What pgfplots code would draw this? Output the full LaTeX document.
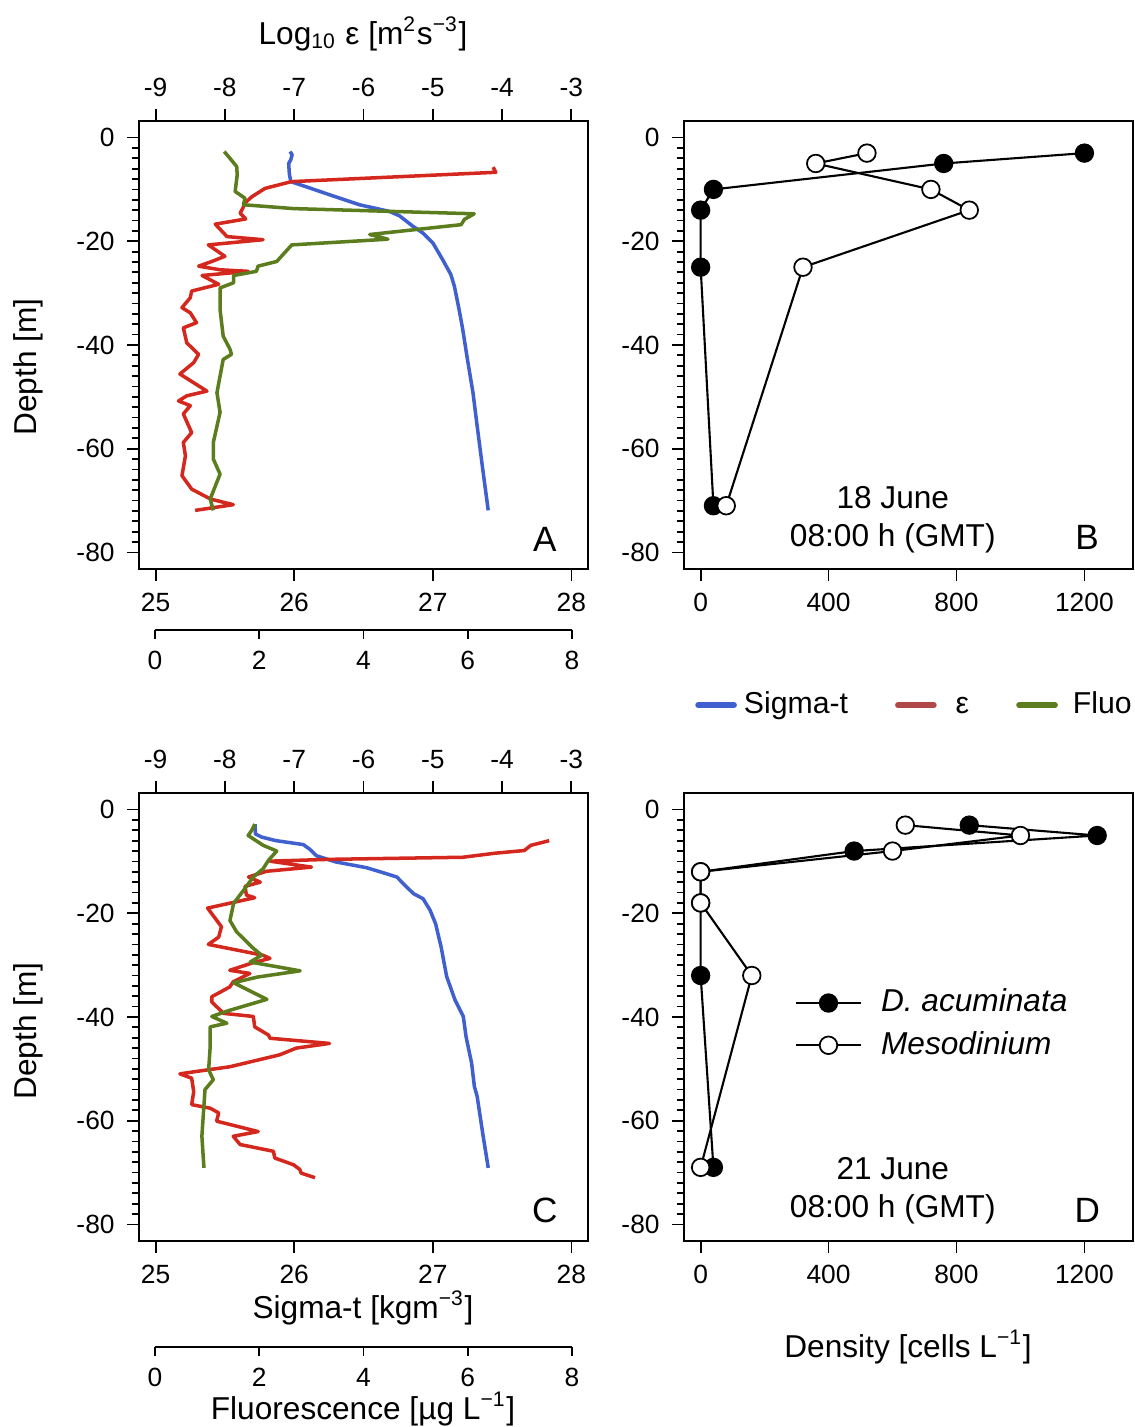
\documentclass[border=0pt]{standalone}
\usepackage{fontspec}
\setmainfont{Liberation Sans}
\usepackage{pgfplots}
\pgfplotsset{compat=1.18}

\definecolor{sigblue}{RGB}{64,96,208}
\definecolor{epsred}{RGB}{212,40,30}
\definecolor{fluogreen}{RGB}{92,125,30}
\definecolor{legred}{RGB}{176,72,72}

\newcommand{\lab}{\fontsize{9}{10.8}\selectfont}

\pgfplotsset{
  base/.style={scale only axis, width=4.49cm, height=4.48cm,
    anchor=south west, tick align=outside,
    /pgf/number format/assume math mode=true,
    /pgf/number format/1000 sep={},
    tick label style={font=\fontsize{7.5}{9}\selectfont},
    major tick length=0.12cm, minor tick length=0.075cm,
    every tick/.style={black, line width=0.5pt},
    axis line style={line width=0.6pt}},
  depth/.style={ymin=-83.2, ymax=3.2, ytick={0,-20,-40,-60,-80},
    minor ytick={-78,-76,...,-2}},
  prof/.style={line width=1pt, line join=round},
  fluoline/.style={scale only axis, width=4.17cm, height=0.2cm,
    anchor=south west, xmin=0, xmax=8, ymin=0, ymax=1,
    axis x line*=bottom, axis y line=none, xtick={0,2,4,6,8},
    tick align=outside, major tick length=0.09cm,
    /pgf/number format/assume math mode=true,
    tick label style={font=\fontsize{7.5}{9}\selectfont},
    every tick/.style={black, line width=0.5pt},
    axis line style={line width=0.6pt}},
  dino/.style={black, line width=0.6pt, mark=*, mark size=2.5pt,
    mark options={fill=black, line width=0.5pt}},
  meso/.style={black, line width=0.6pt, mark=*, mark size=2.5pt,
    mark options={fill=white, line width=0.5pt}},
}

\begin{document}
\begin{tikzpicture}
\path[use as bounding box] (0,0) rectangle (11.34,14.27);

% ---------- panel A ----------
\begin{axis}[base, depth, at={(1.39cm,8.58cm)}, tick pos=left,
  xmin=24.88, xmax=28.12, xtick={25,26,27,28}]
\addplot[prof, sigblue] coordinates {
(25.97,-2.7) (25.985,-3.3) (25.975,-4.3) (25.96,-5.0) (25.965,-7.0)
(25.975,-8.5) (26.065,-9.3) (26.257,-11.05) (26.472,-12.97) (26.688,-14.25)
(26.76,-15.1) (26.856,-17.1) (26.928,-18.4) (27.0,-20.3) (27.07,-23.5)
(27.13,-26.4) (27.156,-28.7) (27.19,-33.2) (27.216,-37) (27.25,-42.8)
(27.29,-49.2) (27.32,-55.6) (27.36,-63.9) (27.40,-71.9)};
\node[font=\fontsize{10}{12}\selectfont] at (rel axis cs:0.904,0.065) {A};
\end{axis}
\begin{axis}[base, depth, at={(1.39cm,8.58cm)},
  xmin=-9.24, xmax=-2.76, axis x line*=top, axis y line=none,
  xtick={-9,-8,-7,-6,-5,-4,-3}]
\addplot[prof, epsred] coordinates {
(-4.13,-5.7) (-4.09,-6.7) (-7.04,-8.5) (-7.42,-9.8) (-7.61,-11.4)
(-7.71,-12.6) (-7.73,-13.3) (-7.78,-14.6) (-7.70,-15.7) (-8.14,-16.7)
(-7.97,-19.1) (-7.45,-19.7) (-8.24,-20.7) (-8.0,-22.9) (-8.19,-23.9)
(-8.38,-24.8) (-8.07,-25.5) (-7.66,-25.8) (-8.33,-26.6) (-8.09,-28.3)
(-8.48,-29.6) (-8.50,-30.9) (-8.62,-32.8) (-8.50,-33.8) (-8.41,-35.7)
(-8.60,-36.7) (-8.55,-39.6) (-8.38,-41.8) (-8.45,-43.4) (-8.65,-45.6)
(-8.26,-48.9) (-8.55,-49.8) (-8.67,-50.8) (-8.50,-51.7) (-8.60,-53.3)
(-8.48,-56.9) (-8.60,-58.8) (-8.57,-61.4) (-8.62,-65.2) (-8.48,-67.8)
(-8.21,-69.7) (-7.88,-70.8) (-8.43,-71.9)};
\end{axis}
\begin{axis}[base, depth, at={(1.39cm,8.58cm)}, hide axis,
  xmin=-0.32, xmax=8.32]
\addplot[prof, fluogreen] coordinates {
(1.32,-2.7) (1.43,-4.0) (1.56,-5.6) (1.57,-7.2) (1.53,-10.4) (1.72,-11.7)
(1.69,-12.96) (2.65,-13.7) (6.13,-14.7) (5.94,-15.8) (5.88,-16.8)
(4.12,-18.7) (4.47,-19.6) (2.62,-20.7) (2.33,-23.9) (1.97,-24.8)
(1.94,-25.8) (1.50,-26.6) (1.50,-28.0) (1.24,-29.0) (1.24,-33.2)
(1.30,-38.3) (1.43,-40.8) (1.46,-41.8) (1.30,-42.8) (1.24,-46.0)
(1.18,-49.2) (1.24,-53.0) (1.11,-58.8) (1.11,-62.0) (1.24,-64.9)
(1.05,-69.7) (1.11,-71.9)};
\end{axis}
\begin{axis}[fluoline, at={(1.55cm,7.97cm)}]
\end{axis}

% ---------- panel B ----------
\begin{axis}[base, depth, at={(6.84cm,8.58cm)}, tick pos=left,
  xmin=-52, xmax=1352, xtick={0,400,800,1200},
  legend image code/.code={\draw[#1, line width=1.6pt, line cap=round]
    (0cm,0cm) -- (0.36cm,0cm);},
  legend style={draw=none, fill=none, at={(axis description cs:0.0,-0.304)},
    anchor=west, legend columns=3, font=\fontsize{8.6}{10.3}\selectfont,
    /tikz/every even column/.append style={column sep=0.40cm}}]
\addlegendimage{sigblue}
\addlegendentry{Sigma-t\hspace{-0.08cm}}
\addlegendimage{legred}
\addlegendentry{\hspace{0.12cm}\vphantom{Sigma-t}ε\hspace{0.08cm}}
\addlegendimage{fluogreen}
\addlegendentry{\hspace{0.08cm}Fluo}
\addplot[dino, forget plot] coordinates {
(1200,-3) (760,-5) (40,-10) (0,-14) (0,-25) (40,-71)};
\addplot[meso, forget plot] coordinates {
(520,-3) (360,-5) (720,-10) (840,-14) (320,-25) (80,-71)};
\node[font=\lab, align=center] at (rel axis cs:0.465,0.109)
  {18 June\\08:00 h (GMT)};
\node[font=\fontsize{10}{12}\selectfont] at (rel axis cs:0.898,0.071) {B};
\end{axis}

% ---------- panel C ----------
\begin{axis}[base, depth, at={(1.39cm,1.86cm)}, tick pos=left,
  xmin=24.88, xmax=28.12, xtick={25,26,27,28}]
\addplot[prof, sigblue] coordinates {
(25.717,-2.8) (25.72,-4.7) (25.765,-5.3) (25.87,-6.0) (26.065,-6.75)
(26.11,-7.6) (26.16,-8.9) (26.30,-10.1) (26.52,-11.2) (26.62,-12.0)
(26.74,-13.0) (26.81,-14.9) (26.86,-16.2) (26.93,-17.2) (26.98,-19.4)
(27.02,-22.0) (27.06,-26.5) (27.10,-32.2) (27.16,-36.7) (27.22,-39.9)
(27.24,-43.8) (27.28,-48.9) (27.30,-53.4) (27.32,-55.3) (27.36,-62.4)
(27.40,-69.1)};
\node[font=\fontsize{10}{12}\selectfont] at (rel axis cs:0.904,0.069) {C};
\end{axis}
\begin{axis}[base, depth, at={(1.39cm,1.86cm)},
  xmin=-9.24, xmax=-2.76, axis x line*=top, axis y line=none,
  xtick={-9,-8,-7,-6,-5,-4,-3}]
\addplot[prof, epsred] coordinates {
(-3.32,-6.0) (-3.585,-6.9) (-3.68,-7.9) (-4.09,-8.4) (-4.57,-9.2)
(-6.49,-9.6) (-7.35,-9.95) (-6.75,-11.1) (-7.40,-11.9) (-7.66,-13.0)
(-7.49,-14.0) (-7.71,-14.8) (-7.69,-16.5) (-7.57,-17.0) (-8.25,-19.0)
(-8.05,-22.6) (-8.09,-24.6) (-8.24,-26.0) (-7.45,-28.1) (-7.35,-28.7)
(-7.61,-29.6) (-7.93,-31.0) (-7.64,-31.6) (-7.88,-33.2) (-7.93,-34.2)
(-8.19,-36.1) (-8.19,-37.1) (-8.02,-39.3) (-7.59,-39.9) (-7.57,-41.9)
(-7.37,-43.5) (-7.35,-44.1) (-6.49,-45.1) (-6.97,-46.0) (-7.21,-47.3)
(-7.93,-49.6) (-8.41,-50.5) (-8.65,-50.97) (-8.48,-51.8) (-8.45,-54.4)
(-8.48,-56.9) (-8.21,-57.6) (-8.09,-58.5) (-8.12,-60.1) (-7.52,-62.1)
(-7.88,-63.0) (-7.78,-64.6) (-7.30,-65.9) (-7.28,-67.2) (-7.01,-68.5)
(-6.92,-69.4) (-6.90,-70.1) (-6.70,-71.0)};
\end{axis}
\begin{axis}[base, depth, at={(1.39cm,1.86cm)}, hide axis,
  xmin=-0.32, xmax=8.32]
\addplot[prof, fluogreen] coordinates {
(1.91,-2.8) (1.85,-4.0) (1.78,-5.0) (2.07,-6.9) (2.33,-8.0) (2.17,-9.8)
(2.07,-11.4) (1.88,-13.0) (1.69,-15.6) (1.50,-18.1) (1.43,-21.4)
(1.56,-23.6) (1.85,-26.5) (2.04,-28.1) (1.82,-29.4) (2.78,-31.1)
(1.96,-32.3) (1.50,-33.4) (2.14,-36.6) (1.43,-38.7) (1.08,-39.9)
(1.37,-41.2) (1.05,-41.9) (1.05,-45.7) (1.02,-50.2) (1.11,-52.1)
(0.95,-54.0) (0.92,-58.5) (0.89,-63.0) (0.93,-69.1)};
\end{axis}
\begin{axis}[fluoline, at={(1.55cm,0.80cm)}]
\end{axis}

% ---------- panel D ----------
\begin{axis}[base, depth, at={(6.84cm,1.86cm)}, tick pos=left,
  xmin=-52, xmax=1352, xtick={0,400,800,1200},
  legend image code/.code={\draw[mark repeat=2, mark phase=2, #1]
    plot coordinates {(0cm,0cm) (0.325cm,0cm) (0.65cm,0cm)};},
  legend style={draw=none, fill=none, at={(rel axis cs:0.222,0.484)},
    anchor=west, font=\lab, legend cell align=left}]
\addplot[dino] coordinates {
(840,-3) (1240,-5) (480,-8) (0,-12) (0,-18) (0,-32) (40,-69)};
\addlegendentry{\hspace{0.12cm}\textit{D. acuminata}}
\addplot[meso] coordinates {
(640,-3) (1000,-5) (600,-8) (0,-12) (0,-18) (160,-32) (0,-69)};
\addlegendentry{\hspace{0.12cm}\textit{Mesodinium}}
\node[font=\lab, align=center] at (rel axis cs:0.465,0.112)
  {21 June\\08:00 h (GMT)};
\node[font=\fontsize{10}{12}\selectfont] at (rel axis cs:0.898,0.069) {D};
\end{axis}

% ---------- axis titles ----------
\node[font=\lab] at (3.63,13.93)
  {Log\textsubscript{10} ε [m\textsuperscript{2}s\textsuperscript{−3}]};
\node[font=\lab] at (3.63,1.19) {Sigma-t [kgm\textsuperscript{−3}]};
\node[font=\lab] at (3.63,0.18) {Fluorescence [µg L\textsuperscript{−1}]};
\node[font=\lab] at (9.08,0.80) {Density [cells L\textsuperscript{−1}]};
\node[font=\lab, rotate=90] at (0.28,10.60) {Depth [m]};
\node[font=\lab, rotate=90] at (0.28,3.96) {Depth [m]};
\end{tikzpicture}
\end{document}
